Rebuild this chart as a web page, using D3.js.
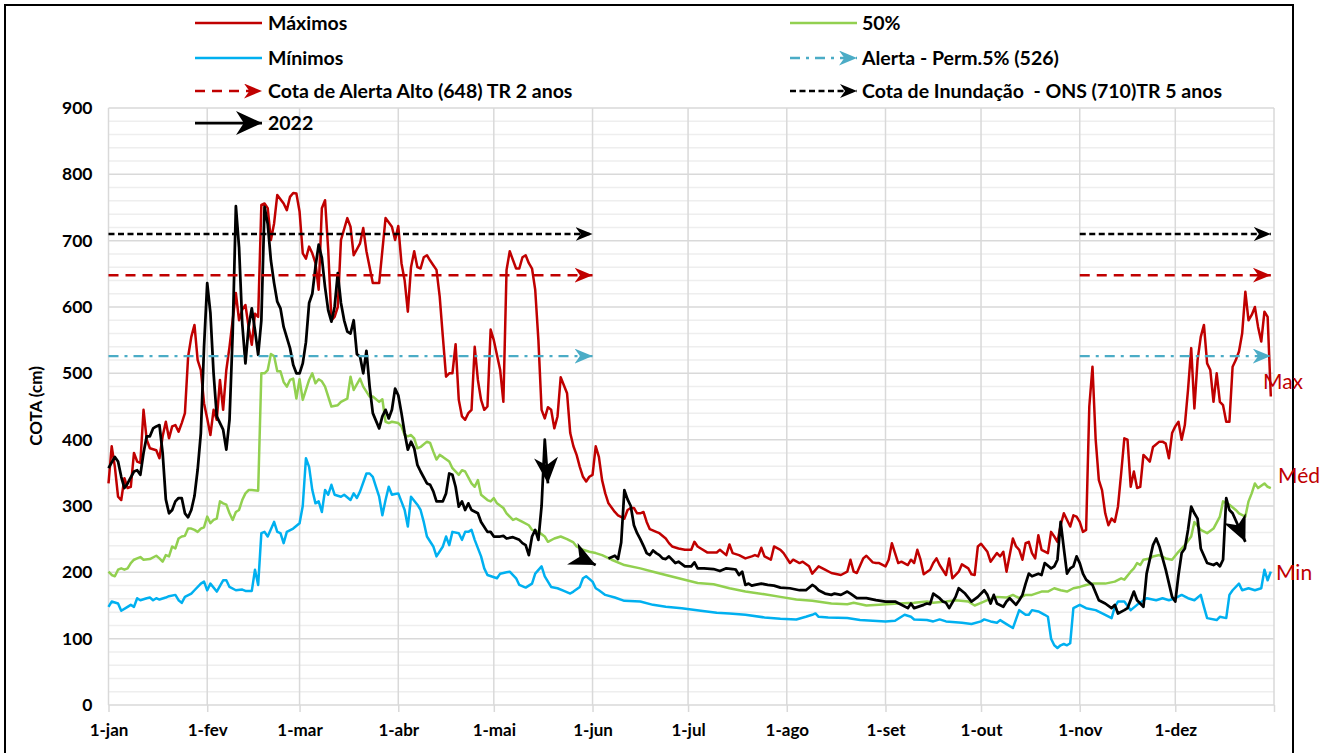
<!DOCTYPE html>
<html><head><meta charset="utf-8">
<script src="https://cdn.jsdelivr.net/npm/d3@7"></script>
<style>
body{margin:0;background:#fff;}
svg{display:block;}
text{font-family:Lato,"Open Sans",sans-serif;}
</style></head><body>
<svg id="c" width="1335" height="753"></svg>
<script>
// ---------- DATA (day of year index, value in cm) ----------
const monthLabels = ["jan","fev","mar","abr","mai","jun","jul","ago","set","out","nov","dez"];
const yTicks = [0,100,200,300,400,500,600,700,800,900];

const maximos = [[0,334],[1,390],[2,359],[3,314],[4,309],[5,342],[6,327],[7,329],[8,380],[9,367],[10,365],[11,445],[12,400],[13,387],[15,384],[16,372],[17,405],[18,427],[19,402],[20,420],[21,422],[22,412],[23,425],[24,440],[25,525],[26,555],[27,573],[28,520],[29,505],[30,455],[31,432],[32,407],[33,445],[34,430],[35,490],[36,445],[37,505],[38,540],[40,621],[41,580],[42,596],[43,603],[44,570],[45,543],[46,590],[47,585],[48,754],[49,756],[50,749],[51,701],[52,726],[53,769],[55,756],[56,746],[57,766],[58,772],[59,771],[60,744],[61,681],[62,673],[63,691],[64,681],[65,666],[66,626],[67,749],[68,761],[69,686],[70,580],[71,585],[72,600],[73,701],[75,734],[76,721],[77,678],[79,696],[80,719],[81,684],[83,636],[85,636],[87,734],[89,721],[90,701],[91,722],[92,666],[93,640],[94,593],[95,660],[96,684],[97,660],[98,658],[99,675],[100,678],[101,670],[102,663],[103,656],[104,616],[105,555],[106,495],[107,500],[108,500],[109,544],[110,460],[111,435],[112,430],[113,440],[114,445],[115,540],[116,490],[117,460],[118,445],[119,450],[120,566],[121,550],[123,505],[124,457],[125,656],[126,684],[128,658],[129,658],[130,675],[131,678],[132,666],[133,658],[134,626],[135,550],[136,445],[137,432],[138,449],[139,445],[140,417],[141,435],[142,494],[144,470],[145,410],[146,390],[147,377],[148,359],[149,344],[150,337],[151,344],[152,347],[153,390],[154,374],[155,339],[156,319],[157,304],[159,291],[160,286],[162,281],[163,294],[164,297],[165,297],[166,289],[167,289],[168,291],[169,276],[170,265],[172,261],[173,259],[175,251],[176,244],[177,239],[179,236],[181,234],[183,234],[184,246],[185,239],[186,236],[188,230],[191,230],[192,234],[194,226],[195,242],[196,229],[198,226],[200,221],[202,224],[203,226],[204,224],[205,237],[206,224],[208,219],[209,239],[211,234],[212,229],[214,214],[215,219],[217,214],[218,216],[220,209],[221,198],[223,209],[225,204],[227,199],[230,196],[232,201],[233,219],[234,201],[235,199],[237,221],[238,225],[240,215],[241,214],[242,214],[244,209],[245,219],[246,244],[247,229],[248,214],[249,216],[251,211],[252,219],[253,214],[254,234],[255,219],[256,197],[258,204],[259,214],[260,221],[261,211],[263,196],[264,221],[265,191],[267,201],[268,212],[270,206],[271,197],[272,196],[273,239],[274,243],[276,231],[277,216],[279,229],[280,224],[281,231],[282,201],[284,251],[285,239],[286,234],[287,219],[288,244],[289,246],[290,229],[291,221],[292,256],[293,234],[295,229],[296,261],[297,254],[298,246],[299,271],[300,289],[302,269],[303,286],[304,284],[305,276],[306,261],[307,264],[308,450],[309,510],[310,400],[311,339],[312,324],[313,289],[314,271],[315,281],[316,276],[317,299],[318,349],[319,402],[320,400],[321,329],[322,352],[323,327],[324,329],[325,377],[326,372],[327,367],[328,389],[330,397],[331,397],[332,394],[333,372],[334,410],[335,420],[336,427],[337,400],[338,422],[339,475],[340,538],[341,447],[342,520],[343,555],[344,573],[345,515],[346,505],[347,457],[348,500],[349,457],[350,452],[351,427],[352,427],[353,510],[354,520],[355,533],[356,560],[357,623],[358,580],[359,588],[360,600],[361,570],[362,548],[363,593],[364,585],[365,465]];

const mediana = [[0,201],[1,196],[2,194],[3,204],[4,206],[5,204],[6,206],[7,214],[8,219],[9,221],[10,223],[11,219],[13,220],[15,225],[16,221],[17,216],[18,226],[19,224],[20,239],[21,236],[22,251],[23,254],[24,255],[25,266],[26,266],[27,264],[28,261],[29,266],[30,268],[31,284],[32,274],[33,279],[34,281],[35,307],[36,304],[37,302],[38,289],[39,279],[40,291],[41,294],[42,309],[43,319],[44,324],[45,324],[47,323],[48,500],[49,500],[50,505],[51,529],[52,526],[53,503],[54,503],[55,487],[56,480],[57,490],[58,492],[59,462],[60,491],[61,460],[63,490],[64,500],[65,485],[66,491],[67,488],[68,480],[70,450],[72,452],[73,457],[75,462],[76,495],[77,475],[79,492],[80,480],[82,465],[83,465],[85,457],[86,461],[87,427],[88,425],[89,427],[91,425],[92,420],[93,407],[94,405],[95,407],[96,402],[97,387],[98,389],[100,397],[101,395],[102,382],[103,370],[104,377],[105,374],[107,367],[108,357],[110,347],[111,354],[112,352],[114,334],[115,329],[116,339],[117,317],[119,309],[120,307],[121,312],[122,304],[124,297],[125,289],[127,279],[128,281],[130,276],[132,271],[133,264],[135,261],[137,254],[138,246],[140,251],[142,254],[144,250],[146,245],[147,239],[149,234],[151,231],[153,229],[155,226],[158,219],[162,211],[167,206],[171,201],[175,196],[180,190],[185,184],[190,182],[195,176],[200,171],[206,167],[211,163],[216,159],[221,157],[227,153],[232,152],[234,154],[238,150],[242,151],[248,153],[253,154],[257,156],[259,154],[263,156],[266,158],[270,156],[272,150],[274,154],[276,158],[279,163],[282,162],[284,166],[286,161],[288,166],[290,166],[293,171],[295,171],[297,176],[299,173],[301,171],[303,176],[305,178],[307,181],[309,183],[311,183],[313,183],[316,186],[318,191],[319,189],[321,201],[322,206],[323,214],[324,211],[325,219],[327,221],[328,224],[330,226],[332,221],[334,219],[336,231],[338,241],[340,254],[341,276],[343,264],[345,259],[347,266],[349,284],[350,307],[352,302],[354,294],[355,289],[357,284],[358,307],[359,319],[360,334],[361,327],[363,334],[364,329],[365,327]];

const minimos = [[0,148],[1,156],[3,153],[4,142],[6,148],[7,151],[8,148],[9,161],[10,158],[12,161],[13,162],[14,158],[15,161],[16,159],[18,162],[19,164],[21,166],[22,158],[23,154],[24,163],[26,168],[27,173],[29,183],[30,186],[31,173],[32,183],[34,171],[36,188],[37,188],[38,178],[40,173],[42,174],[43,172],[45,172],[46,204],[47,181],[48,259],[49,261],[50,254],[52,276],[53,261],[54,259],[55,244],[56,261],[58,266],[60,274],[61,300],[62,372],[63,359],[64,324],[65,304],[66,307],[67,291],[68,324],[69,317],[70,332],[71,317],[73,314],[74,317],[76,309],[77,319],[78,312],[79,322],[81,349],[82,349],[83,344],[84,329],[85,314],[86,286],[87,309],[88,329],[89,317],[90,318],[91,319],[93,294],[94,269],[95,314],[97,302],[98,294],[99,276],[100,254],[102,239],[103,224],[105,239],[106,254],[107,241],[108,261],[110,259],[111,249],[112,261],[113,261],[114,264],[115,249],[117,224],[118,206],[119,196],[122,191],[123,198],[125,200],[126,201],[128,191],[129,181],[131,177],[133,183],[134,198],[136,209],[137,194],[139,178],[141,176],[143,172],[145,168],[146,171],[148,178],[149,191],[150,194],[152,186],[153,176],[154,173],[156,166],[159,162],[162,157],[167,156],[171,151],[175,148],[180,146],[186,142],[191,139],[195,138],[200,136],[206,132],[211,130],[216,129],[219,133],[221,136],[222,138],[223,133],[226,132],[232,131],[236,128],[240,127],[244,126],[247,127],[250,136],[252,133],[253,129],[257,128],[259,126],[261,129],[263,126],[268,124],[271,122],[274,126],[275,129],[277,126],[279,124],[280,128],[282,122],[284,116],[286,143],[288,136],[289,136],[290,143],[292,141],[294,136],[295,133],[296,100],[297,90],[298,86],[299,90],[300,92],[301,90],[302,93],[303,146],[305,151],[307,146],[310,143],[313,136],[315,131],[316,148],[317,156],[319,156],[321,143],[323,151],[326,161],[329,158],[331,161],[333,158],[335,161],[337,166],[339,161],[341,158],[343,166],[344,148],[345,131],[348,128],[349,133],[351,131],[352,166],[353,173],[355,183],[356,173],[358,176],[360,173],[362,176],[363,204],[364,188],[365,201]];

// 2022: null marks a gap in the record
const ano2022 = [[0,357],[2,374],[3,367],[4,344],[5,327],[6,334],[8,352],[9,354],[10,347],[11,380],[12,405],[13,405],[14,417],[15,420],[16,422],[17,380],[18,310],[19,289],[20,294],[21,307],[22,312],[23,312],[24,289],[25,283],[26,294],[27,315],[28,355],[29,410],[30,540],[31,636],[32,591],[33,500],[34,435],[36,415],[37,385],[38,430],[39,560],[40,752],[41,690],[42,575],[43,515],[44,570],[45,598],[46,565],[47,528],[48,580],[49,751],[50,725],[51,670],[52,636],[53,608],[54,598],[55,570],[57,538],[58,513],[59,500],[60,500],[61,515],[62,547],[63,606],[64,620],[65,661],[66,694],[67,674],[68,630],[69,595],[70,578],[71,600],[72,651],[73,606],[74,580],[75,563],[76,560],[77,580],[78,529],[79,525],[80,500],[81,534],[82,480],[83,440],[85,417],[86,435],[87,445],[88,432],[89,445],[90,477],[91,467],[92,440],[93,410],[94,385],[95,397],[96,387],[97,362],[98,352],[100,334],[101,332],[102,322],[103,307],[105,307],[106,319],[107,349],[108,347],[109,329],[110,299],[111,307],[112,294],[113,304],[114,294],[116,289],[117,276],[119,261],[120,261],[121,254],[123,254],[124,255],[125,251],[127,253],[129,249],[130,244],[131,241],[132,226],[133,254],[134,264],[135,249],[136,300],[137,400],[138,334],
  [139,null],
  [150,218],[153,211],
  [154,null],
  [157,221],[159,225],[160,220],[161,245],[162,324],[163,310],[164,300],[165,271],[166,259],[167,250],[168,240],[169,229],[170,226],[171,233],[172,229],[173,226],[174,221],[175,220],[176,224],[178,214],[179,216],[181,209],[183,209],[184,215],[185,206],[187,206],[190,205],[192,202],[194,206],[196,205],[197,204],[198,196],[199,201],[200,181],[201,183],[202,180],[203,181],[205,183],[207,181],[209,180],[211,177],[214,176],[217,173],[219,173],[221,181],[222,178],[223,173],[225,168],[227,166],[228,168],[230,166],[232,171],[233,168],[235,161],[238,161],[241,158],[244,156],[247,156],[249,151],[251,146],[252,153],[253,146],[256,151],[257,153],[258,152],[259,168],[261,161],[262,156],[263,154],[264,146],[266,163],[267,176],[269,168],[271,156],[273,163],[275,173],[276,166],[277,153],[278,166],[279,153],[281,148],[282,156],[283,161],[285,151],[286,158],[287,166],[288,183],[289,198],[290,194],[292,198],[293,196],[294,214],[296,206],[297,209],[298,219],[299,276],[300,236],[301,198],[302,206],[303,209],[304,224],[305,214],[306,198],[307,189],[309,181],[311,158],[313,153],[315,146],[316,151],[317,138],[319,143],[320,146],[322,171],[323,158],[325,148],[326,198],[328,241],[329,251],[330,239],[332,204],[334,163],[335,156],[336,196],[337,229],[338,236],[339,264],[340,299],[341,289],[342,281],[343,236],[345,214],[347,211],[348,214],[349,209],[350,219],[351,312],[352,294],[353,289],[357,246]];

// reference levels and the periods (day index) they are drawn for
const refAlerta5 = 526, refAlertaAlto = 648, refInundacao = 710;
const refPeriods = [[0,152],[305,365]];

const legendLabels = ["Máximos","Mínimos","Cota de Alerta Alto (648) TR 2 anos","2022",
                      "50%","Alerta - Perm.5% (526)","Cota de Inundação  - ONS (710)TR 5 anos"];
const sideLabels = ["Max","Méd","Min"];

// ---------- DRAWING ----------
const RED="#C00000", CYAN="#00B0F0", GREEN="#92D050", TEAL="#4BACC6";
const svg = d3.select("#c");
svg.append("rect").attr("width",1335).attr("height",753).attr("fill","#fff");

const start = new Date(Date.UTC(2020,0,1)), end = new Date(Date.UTC(2021,0,1));
const dayToDate = d => new Date(Date.UTC(2020,0,1+d));
const x = d3.scaleUtc().domain([start,end]).range([108.5,1274]);
const y = d3.scaleLinear().domain([0,900]).range([705,108]);

// markers
const defs = svg.append("defs");
function marker(id,color,len,wid){
  defs.append("marker").attr("id",id).attr("viewBox","0 0 20 20")
    .attr("refX",20).attr("refY",10).attr("markerUnits","userSpaceOnUse")
    .attr("markerWidth",len).attr("markerHeight",wid).attr("orient","auto")
    .attr("preserveAspectRatio","none")
    .append("path").attr("d","M0,0 L20,10 L0,20 L6,10 Z").attr("fill",color);
}
marker("aBlk","#000",26,24);
marker("aBlkS","#000",17,14);
marker("aRed",RED,18,15);
marker("aTeal",TEAL,18,15);

// outer frame
svg.append("rect").attr("x",5).attr("y",5).attr("width",1288).attr("height",780)
  .attr("fill","none").attr("stroke","#000").attr("stroke-width",2);

// grid
const g = svg.append("g");
const minor = d3.range(20,900,20).filter(v=>v%100!==0);
g.selectAll(".mn").data(minor).join("line")
  .attr("x1",x(start)).attr("x2",x(end)).attr("y1",d=>y(d)).attr("y2",d=>y(d))
  .attr("stroke","#eeeeee").attr("stroke-width",1.5);
g.selectAll(".mj").data(yTicks).join("line")
  .attr("x1",x(start)).attr("x2",x(end)).attr("y1",d=>y(d)).attr("y2",d=>y(d))
  .attr("stroke","#d9d9d9").attr("stroke-width",1.5);
const months = d3.utcMonth.range(start, d3.utcDay.offset(end,1));
g.selectAll(".vg").data(months).join("line")
  .attr("x1",d=>x(d)).attr("x2",d=>x(d)).attr("y1",y(900)).attr("y2",y(0))
  .attr("stroke","#d9d9d9").attr("stroke-width",1.5);

// axes
const xAxis = d3.axisBottom(x).tickValues(months)
  .tickFormat(d => d>=end ? "" : "1-"+monthLabels[d.getUTCMonth()])
  .tickSizeInner(7).tickSizeOuter(0).tickPadding(12);
const gx = svg.append("g").attr("transform",`translate(0,${y(0)})`).call(xAxis);
gx.select(".domain").remove();
gx.selectAll(".tick line").attr("stroke","#d9d9d9").attr("stroke-width",1.5);
gx.selectAll("text").attr("font-size",17).attr("font-weight","bold").attr("fill","#000")
  .style("font-family","Lato");

const yAxis = d3.axisLeft(y).tickValues(yTicks).tickSize(0).tickPadding(16);
const gy = svg.append("g").attr("transform",`translate(${x(start)},0)`).call(yAxis);
gy.select(".domain").remove();
gy.selectAll("text").attr("font-size",17.5).attr("font-weight","bold").attr("fill","#000")
  .style("font-family","Lato");

svg.append("text").attr("transform","translate(42,406) rotate(-90)")
  .attr("text-anchor","middle").attr("font-size",17).attr("font-weight","bold")
  .text("COTA (cm)");

// series
const line = d3.line().x(d=>x(dayToDate(d[0]))).y(d=>y(d[1]));
const series = svg.append("g").attr("fill","none").attr("stroke-linejoin","round");
series.append("path").datum(minimos).attr("d",line).attr("stroke",CYAN).attr("stroke-width",2.5);
series.append("path").datum(mediana).attr("d",line).attr("stroke",GREEN).attr("stroke-width",2.5);
series.append("path").datum(maximos).attr("d",line).attr("stroke",RED).attr("stroke-width",2.5);

// reference lines
const refG = svg.append("g").attr("fill","none");
refPeriods.forEach(p=>{
  const pts = v => [[p[0],v],[p[1],v]];
  refG.append("path").datum(pts(refAlerta5)).attr("d",line).attr("stroke",TEAL)
    .attr("stroke-width",2.25).attr("stroke-dasharray","10,6,3,6").attr("marker-end","url(#aTeal)");
  refG.append("path").datum(pts(refAlertaAlto)).attr("d",line).attr("stroke",RED)
    .attr("stroke-width",2.5).attr("stroke-dasharray","10,7").attr("marker-end","url(#aRed)");
  refG.append("path").datum(pts(refInundacao)).attr("d",line).attr("stroke","#000")
    .attr("stroke-width",2.5).attr("stroke-dasharray","6,3.5").attr("marker-end","url(#aBlkS)");
});

// 2022, split at gaps; each run ends with an arrow
const runs = [];
let cur = [];
ano2022.forEach(d=>{ if(d[1]==null){ if(cur.length) runs.push(cur); cur=[]; } else cur.push(d); });
if(cur.length) runs.push(cur);
runs.forEach(r=>{
  series.append("path").datum(r).attr("d",line).attr("stroke","#000").attr("stroke-width",2.75)
    .attr("marker-end","url(#aBlk)");
});

// side labels
const sideVals = [[1263,382],[1278,476],[1276,573]];
sideLabels.forEach((t,i)=>{
  svg.append("text").attr("x",sideVals[i][0]).attr("y",sideVals[i][1]).attr("dy","0.35em")
    .attr("font-size",21).attr("fill",RED).text(t);
});

// legend
const leg = svg.append("g");
const rows = [23,58,91,123];
const legItems = [
  {c:0,r:0,stroke:RED,dash:null,mk:null},
  {c:0,r:1,stroke:CYAN,dash:null,mk:null},
  {c:0,r:2,stroke:RED,dash:"10,7",mk:"aRed"},
  {c:0,r:3,stroke:"#000",dash:null,mk:"aBlk",w:2.75},
  {c:1,r:0,stroke:GREEN,dash:null,mk:null},
  {c:1,r:1,stroke:TEAL,dash:"10,6,3,6",mk:"aTeal"},
  {c:1,r:2,stroke:"#000",dash:"6,3.5",mk:"aBlkS"}
];
const colX = [[195,262,268],[790,857,862]];
legItems.forEach((it,i)=>{
  const cx = colX[it.c], yy = rows[it.r];
  const l = leg.append("line").attr("x1",cx[0]).attr("x2",cx[1]).attr("y1",yy).attr("y2",yy)
    .attr("stroke",it.stroke).attr("stroke-width",it.w||2.5);
  if(it.dash) l.attr("stroke-dasharray",it.dash);
  if(it.mk) l.attr("marker-end",`url(#${it.mk})`);
  leg.append("text").attr("x",cx[2]).attr("y",yy).attr("dy","0.35em")
    .attr("font-size",19.5).attr("font-weight","bold").style("white-space","pre")
    .text(legendLabels[i]);
});
</script>
</body></html>
